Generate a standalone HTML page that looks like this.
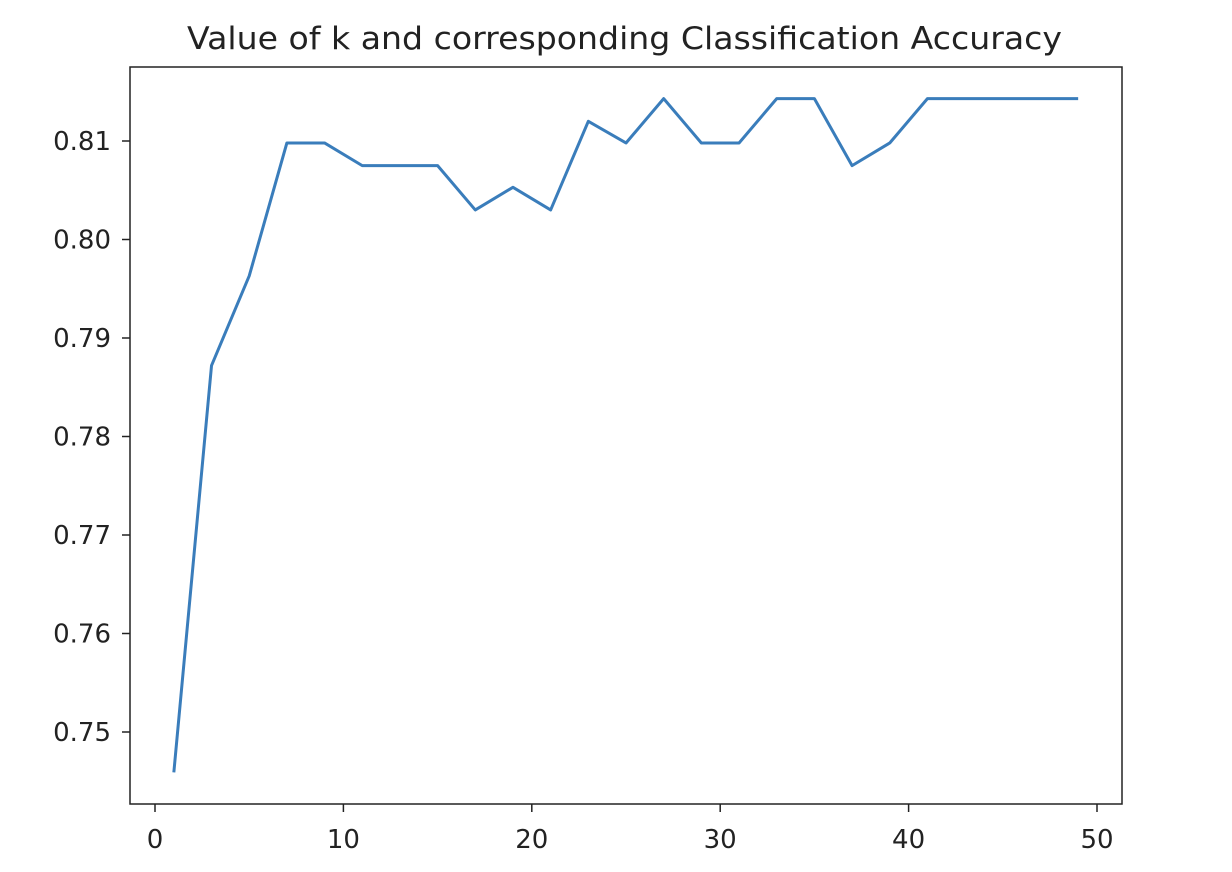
<!DOCTYPE html>
<html><head><meta charset="utf-8"><style>
body{margin:0;background:#fff;}
svg{display:block;font-family:"DejaVu Sans","Liberation Sans",sans-serif;}
</style></head><body>
<svg id="chart" width="1232" height="872" viewBox="0 0 1232 872">
<rect x="0" y="0" width="1232" height="872" fill="#fff"/>
<text x="187" y="49" textLength="875" lengthAdjust="spacingAndGlyphs" font-size="31" fill="#222">Value of k and corresponding Classification Accuracy</text>
<g id="axes"></g>
<rect x="130" y="67" width="992" height="737" fill="none" stroke="#222" stroke-width="1.5"/>
</svg>
<script>
const kValues=[1,3,5,7,9,11,13,15,17,19,21,23,25,27,29,31,33,35,37,39,41,43,45,47,49];
const accuracy=[0.7459,0.7872,0.7963,0.8098,0.8098,0.8075,0.8075,0.8075,0.8030,0.8053,0.8030,0.8120,0.8098,0.8143,0.8098,0.8098,0.8143,0.8143,0.8075,0.8098,0.8143,0.8143,0.8143,0.8143,0.8143];
const xTicks=[0,10,20,30,40,50];
const yTicks=[0.75,0.76,0.77,0.78,0.79,0.80,0.81];
const yLabels=["0.75","0.76","0.77","0.78","0.79","0.80","0.81"];
const NS="http://www.w3.org/2000/svg";
const sx=v=>155+v*18.84;
const sy=v=>732-(v-0.75)*9850;
const g=document.getElementById('axes');
function mk(t,a){const e=document.createElementNS(NS,t);for(const k in a)e.setAttribute(k,a[k]);g.appendChild(e);return e;}
xTicks.forEach(v=>{
 const l=mk('line',{x1:sx(v),x2:sx(v),y1:804,y2:812,stroke:'#222','stroke-width':1.5});
 
 
 const t=mk('text',{x:sx(v),y:848,'text-anchor':'middle','font-size':26,fill:'#222'});
 t.textContent=v;
 
 
});
yTicks.forEach((v,i)=>{
 const l=mk('line',{x1:122,x2:130,y1:sy(v),y2:sy(v),stroke:'#222','stroke-width':1.5});
 
 
 const t=mk('text',{x:111,y:sy(v)+9,'text-anchor':'end','font-size':26,fill:'#222'});
 t.textContent=yLabels[i];
 
 
});
const pts=kValues.map((k,i)=>sx(k)+','+sy(accuracy[i])).join(' ');
const p=mk('polyline',{points:pts,fill:'none',stroke:'#3a7dbb','stroke-width':3,'stroke-linejoin':'round'});


</script>
</body></html>
